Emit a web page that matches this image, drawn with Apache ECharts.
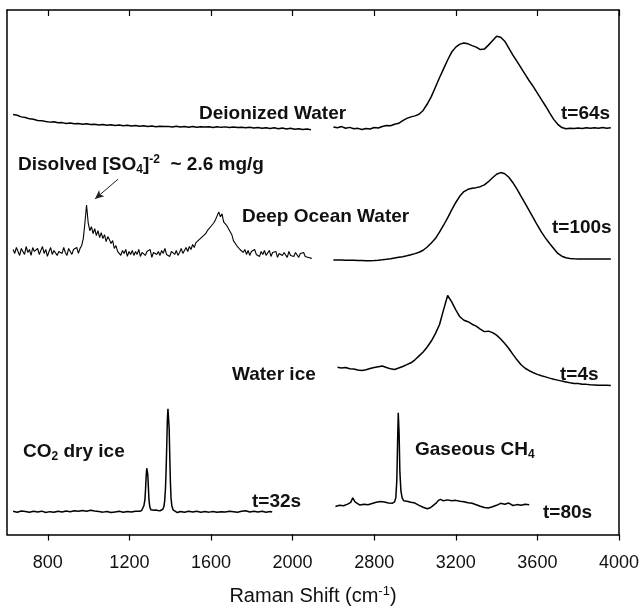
<!DOCTYPE html>
<html>
<head>
<meta charset="utf-8">
<script src="https://cdn.jsdelivr.net/npm/echarts@6/dist/echarts.min.js"></script>
<style>
  html, body { margin: 0; padding: 0; background: #fff; }
  #chart { width: 642px; height: 611px; }
</style>
</head>
<body>
<div id="chart"></div>
<script>
// Raman shift axis is broken: nothing is recorded between the two detector windows,
// so shifts above BREAK_HIGH are drawn (BREAK_HIGH - BREAK_LOW) cm-1 further left.
const BREAK_LOW = 2200;
const BREAK_HIGH = 2600;

// Tick labels of the Raman shift axis (cm-1)
const tickShifts = [800, 1200, 1600, 2000, 2800, 3200, 3600, 4000];

// Vertical offset of each spectrum in the stack (a.u.)
const baselines = { deionized: 411, ocean: 285, ice: 168, co2: 23, ch4: 31 };

// Deionized water, t=64s — evenly sampled windows
const deionizedLowStart = 630, deionizedLowStep = 20;
const deionizedLow = [
  13.3, 12.6, 11.0, 10.4, 9.0, 8.6, 7.4, 7.2, 6.3, 5.7,
  6.0, 5.0, 5.2, 4.4, 4.8, 4.0, 4.3, 3.6, 4.0, 3.2,
  3.6, 2.9, 3.3, 2.6, 3.0, 2.3, 2.7, 2.0, 2.5, 1.8,
  2.2, 1.5, 2.0, 1.3, 1.8, 1.1, 1.6, 1.2, 1.4, 0.8,
  1.5, 0.7, 1.2, 0.6, 1.3, 0.5, 1.1, 0.7, 1.0, 0.3,
  1.0, 0.4, 0.9, 0.2, 0.8, 0.3, 0.6, -0.1, 0.5, -0.3,
  0.3, -0.5, 0.1, -0.7, 0.0, -0.9, -0.3, -1.2, -0.5, -1.4,
  -0.9, -1.7, -1.2, -2.0
];
const deionizedHighStart = 2600, deionizedHighStep = 20;
const deionizedHigh = [
  0.7, 0.0, 1.2, -0.5, 0.4, -1.0, -0.6, -1.7, -0.8, -1.2,
  0.2, -0.3, 1.2, 2.3, 2.0, 3.6, 4.5, 7.2, 9.5, 11.0,
  12.0, 13.6, 17.5, 24.0, 31.5, 41.0, 50.5, 59.5, 68.5, 76.5,
  81.5, 84.5, 85.7, 84.8, 83.0, 81.5, 79.0, 79.5, 83.5, 88.0,
  92.5, 91.5, 87.5, 80.5, 73.5, 67.0, 60.5, 54.0, 47.5, 41.5,
  35.0, 28.5, 22.0, 15.0, 8.5, 3.5, 0.2, -1.0, -0.5, -0.8,
  -0.2, -0.7, 0.1, -0.6, 0.0, -0.5, 0.2, -0.4, 0.0
];

// Deep ocean water, t=100s
const oceanLowStart = 630, oceanLowStep = 8;
const oceanLow = [
  3, -1, 5, 1, -3, 4, 2, -2, 6, 0, 3, -3, 5, 1, -1,
  4, -2, 2, 6, -1, 3, -4, 1, 5, -2, 2, 4, -3, 1, 3,
  -1, 5, 0, -3, 4, 2, -2, 3, 1, 5, -1, 4, 7, 14, 30,
  48, 30, 22, 26, 19, 24, 17, 22, 15, 20, 14, 18, 11, 16, 13,
  9, 12, 4, 7, 1, 3, -3, 2, -1, 3, -4, 1, -2, 2, -3,
  1, -2, 3, -4, 0, 2, -3, 1, -1, 3, -5, 0, 2, -2, 1,
  -3, 2, -1, 4, -2, 0, -4, 1, 3, -2, 2, -3, 0, 4, -1,
  2, 5, 1, 6, 3, 8, 5, 10, 8, 13, 11, 16, 14, 19, 22,
  21, 26, 24, 30, 33, 37, 41, 36, 39, 31, 33, 27, 28, 21, 18,
  12, 14, 7, 9, 3, 5, 0, 3, -2, 2, -3, 1, -1, 3, -2,
  0, -4, 1, -2, 2, -3, -1, 2, -4, 0, -2, 1, -5, -1, 1,
  -3, 0, -2, -5, 1, -3, -1, -4, 0, -2, -5, -1, -3, 0, -4,
  -2, -5, -3, -6
];
const oceanHighStart = 2600, oceanHighStep = 20;
const oceanHigh = [
  -7.5, -7.6, -7.7, -7.8, -7.9, -8.0, -8.1, -8.2, -8.3, -8.3,
  -8.1, -7.8, -7.4, -6.9, -6.3, -5.6, -4.9, -4.3, -3.4, -2.4,
  -1.2, 0.2, 2.2, 5.5, 9.5, 14.0, 20.5, 27.5, 35.0, 43.0,
  50.5, 57.0, 61.5, 63.8, 64.8, 65.5, 66.5, 68.3, 71.5, 75.5,
  79.0, 80.7, 79.5, 76.0, 70.5, 64.0, 56.7, 49.5, 42.3, 35.0,
  27.5, 20.5, 14.5, 9.0, 4.0, -1.0, -3.8, -5.4, -6.1, -6.4,
  -6.5, -6.6, -6.6, -6.6, -6.7, -6.7, -6.7, -6.7, -6.7
];

// Water ice, t=4s
const iceStart = 2620, iceStep = 20;
const ice = [
  1.0, 0.2, 0.8, -0.5, -0.8, -1.8, -2.3, -1.5, -0.2, 0.8,
  1.5, 2.2, 0.8, -0.6, -1.2, 0.3, 1.8, 3.6, 5.5, 8.5,
  12.5, 16.5, 21.5, 27.5, 35.0, 44.0, 59.0, 73.5, 67.0, 59.0,
  52.0, 48.5, 47.0, 44.5, 42.5, 39.5, 37.0, 37.5, 36.0, 33.5,
  29.5, 25.0, 20.0, 14.0, 8.5, 3.5, 0.0, -2.5, -4.5, -6.2,
  -7.5, -8.7, -10.0, -11.2, -12.0, -13.0, -13.8, -14.7, -15.3, -15.5,
  -16.2, -16.3, -16.8, -16.9, -17.1, -17.2, -17.3, -17.4
];

// CO2 dry ice, t=32s — [Raman shift, counts]
const co2 = [
  [630, 0.5], [650, -0.5], [670, 0.8], [690, 0.2], [710, -0.6], [730, 0.4], [750, -0.3], [770, 0.6],
  [790, -0.8], [810, 0.1], [830, -0.6], [850, 0.5], [870, -0.2], [890, 0.7], [910, 0.0], [930, 0.9],
  [950, 0.4], [970, 1.2], [990, 0.6], [1010, 1.5], [1030, 0.8], [1050, 0.2], [1070, -0.4], [1090, 0.3],
  [1110, -0.8], [1130, -0.2], [1150, 0.4], [1170, -0.5], [1190, 0.2], [1210, -0.3], [1230, 0.6], [1250, 0.4],
  [1260, 1.2], [1266, 2.5], [1271, 6], [1276, 12], [1279, 22], [1282, 35], [1285, 44], [1287, 45],
  [1290, 38], [1293, 25], [1296, 12], [1300, 5], [1305, 2], [1312, 0.8], [1320, 1.5], [1330, 1.8],
  [1340, 1.2], [1350, 1.0], [1358, 1.6], [1364, 2.5], [1369, 5], [1373, 11], [1377, 24], [1380, 42],
  [1383, 66], [1386, 92], [1389, 104], [1392, 105], [1395, 84], [1398, 55], [1401, 30], [1404, 14],
  [1408, 6], [1414, 2], [1420, 0], [1435, -0.8], [1450, 0.3], [1470, -0.6], [1490, 0.4],
  [1510, -0.3], [1530, 0.5], [1550, -0.5], [1570, 0.2], [1590, -0.4], [1610, 0.3], [1630, -0.6], [1650, 0.1],
  [1670, -0.3], [1690, 0.5], [1710, 0.0], [1730, -0.5], [1750, 0.4], [1770, 1.0], [1790, -0.2], [1810, 0.6],
  [1830, -0.3], [1850, 0.4], [1870, -0.5], [1890, 0.2], [1900, -0.3]
];

// Gaseous CH4, t=80s — [Raman shift, counts]
const ch4 = [
  [2610, -2.7], [2630, -1.5], [2650, -2.0], [2670, -0.3], [2685, 1.5], [2695, 6], [2700, 7.3], [2706, 2],
  [2715, 0.2], [2730, -1.2], [2750, -0.5], [2770, -1.0], [2790, 0.3], [2810, 1.5], [2830, 2.3], [2850, 1.8],
  [2870, 0.8], [2890, 0.7], [2900, 2], [2906, 6], [2911, 24], [2915, 65], [2918, 92], [2922, 72],
  [2926, 32], [2931, 13], [2937, 6], [2945, 3], [2960, 2.5], [2980, 1.5], [3000, 0.8], [3020, -1.5],
  [3040, -3.5], [3060, -5], [3075, -4], [3090, -1.5], [3105, 1], [3115, 3.5], [3125, 4.5], [3140, 3],
  [3160, 4], [3180, 3.2], [3200, 3.5], [3220, 2.5], [3240, 2], [3260, 1], [3280, 0.5], [3300, -1],
  [3320, -2.5], [3340, -3.8], [3360, -4.3], [3380, -3], [3400, -1.5], [3420, 0.5], [3440, -0.5], [3460, 0.8],
  [3480, -1.7], [3500, -0.8], [3520, -1.5], [3540, -0.5], [3560, -1.0]
];

// Arrow pointing at the sulfate band: [shift, a.u.] tail and head
const so4Arrow = { tail: [1144, 359], head: [1031, 339] };

function sampled(start, step, values) {
  return values.map((v, i) => [start + i * step, v]);
}
function toAxis(shift) {
  return shift >= BREAK_HIGH ? shift - (BREAK_HIGH - BREAK_LOW) : shift;
}
function fromAxis(pos) {
  return pos > BREAK_LOW ? pos + (BREAK_HIGH - BREAK_LOW) : pos;
}

const FONT = '"Liberation Sans", Arial, Helvetica, sans-serif';
const INK = '#111';

function spectrum(name, points, baseline, extra) {
  return Object.assign({
    type: 'line',
    name: name,
    data: points.map(p => [toAxis(p[0]), baseline + p[1]]),
    symbol: 'none',
    silent: true,
    lineStyle: { color: '#000', width: 1.5 },
    z: 3
  }, extra || {});
}

const series = [
  spectrum('Deionized Water', sampled(deionizedLowStart, deionizedLowStep, deionizedLow), baselines.deionized),
  spectrum('Deionized Water', sampled(deionizedHighStart, deionizedHighStep, deionizedHigh), baselines.deionized),
  spectrum('Deep Ocean Water', sampled(oceanLowStart, oceanLowStep, oceanLow), baselines.ocean, {
    lineStyle: { color: '#000', width: 1.1 },
    markLine: {
      silent: true,
      animation: false,
      symbol: ['none', 'arrow'],
      symbolSize: [6, 9],
      label: { show: false },
      lineStyle: { color: '#222', width: 1, type: 'solid' },
      data: [[
        { coord: [toAxis(so4Arrow.tail[0]), so4Arrow.tail[1]] },
        { coord: [toAxis(so4Arrow.head[0]), so4Arrow.head[1]] }
      ]]
    }
  }),
  spectrum('Deep Ocean Water', sampled(oceanHighStart, oceanHighStep, oceanHigh), baselines.ocean),
  spectrum('Water ice', sampled(iceStart, iceStep, ice), baselines.ice),
  spectrum('CO2 dry ice', co2, baselines.co2),
  spectrum('Gaseous CH4', ch4, baselines.ch4)
];

const rich = {
  sub: { fontFamily: FONT, fontSize: 12, fontWeight: 'bold', fill: INK, padding: [10, 0, 0, 0] },
  sup: { fontFamily: FONT, fontSize: 12, fontWeight: 'bold', fill: INK, padding: [0, 0, 10, 0] }
};

// Sample labels and acquisition times
const annotations = [
  { text: 'Deionized Water', x: 199, y: 114 },
  { text: 't=64s', x: 561, y: 114 },
  { text: 'Disolved [SO{sub|4}]{sup|-2}  ~ 2.6 mg/g', x: 18, y: 165 },
  { text: 'Deep Ocean Water', x: 242, y: 217 },
  { text: 't=100s', x: 552, y: 228 },
  { text: 'Water ice', x: 232, y: 375 },
  { text: 't=4s', x: 560, y: 375 },
  { text: 'CO{sub|2} dry ice', x: 23, y: 452 },
  { text: 't=32s', x: 252, y: 502 },
  { text: 'Gaseous CH{sub|4}', x: 415, y: 450 },
  { text: 't=80s', x: 543, y: 513 }
];

const tickPositions = tickShifts.map(toAxis);
const frameLine = { show: true, onZero: false, lineStyle: { color: '#000', width: 1.5 } };

const chart = echarts.init(document.getElementById('chart'), null, { renderer: 'canvas' });
chart.setOption({
  animation: false,
  backgroundColor: '#fff',
  grid: { left: 7, right: 23, top: 10, bottom: 71, containLabel: false },
  xAxis: [
    {
      type: 'value', position: 'bottom', min: 600, max: 3600,
      axisLine: frameLine,
      axisTick: { show: true, inside: false, length: 6, customValues: tickPositions, lineStyle: { color: '#000', width: 1.2 } },
      axisLabel: {
        customValues: tickPositions,
        formatter: v => String(fromAxis(v)),
        fontFamily: FONT, fontSize: 18, color: INK, margin: 20
      },
      splitLine: { show: false },
      name: 'Raman Shift (cm{sup|-1})',
      nameLocation: 'middle',
      nameGap: 50,
      nameTextStyle: {
        fontFamily: FONT, fontSize: 20, color: INK,
        rich: { sup: { fontFamily: FONT, fontSize: 13, color: INK, padding: [0, 0, 10, 0] } }
      }
    },
    {
      type: 'value', position: 'top', min: 600, max: 3600,
      axisLine: frameLine,
      axisTick: { show: true, inside: true, length: 6, customValues: tickPositions, lineStyle: { color: '#000', width: 1.2 } },
      axisLabel: { show: false },
      splitLine: { show: false }
    }
  ],
  yAxis: [
    { type: 'value', position: 'left', min: 0, max: 530, axisLine: frameLine, axisTick: { show: false }, axisLabel: { show: false }, splitLine: { show: false } },
    { type: 'value', position: 'right', min: 0, max: 530, axisLine: frameLine, axisTick: { show: false }, axisLabel: { show: false }, splitLine: { show: false } }
  ],
  series: series,
  graphic: annotations.map(a => ({
    type: 'text',
    x: a.x,
    y: a.y,
    silent: true,
    z: 10,
    style: {
      text: a.text,
      rich: rich,
      fontFamily: FONT,
      fontSize: 19,
      fontWeight: 'bold',
      fill: INK,
      align: 'left',
      verticalAlign: 'middle'
    }
  }))
});
</script>
</body>
</html>
